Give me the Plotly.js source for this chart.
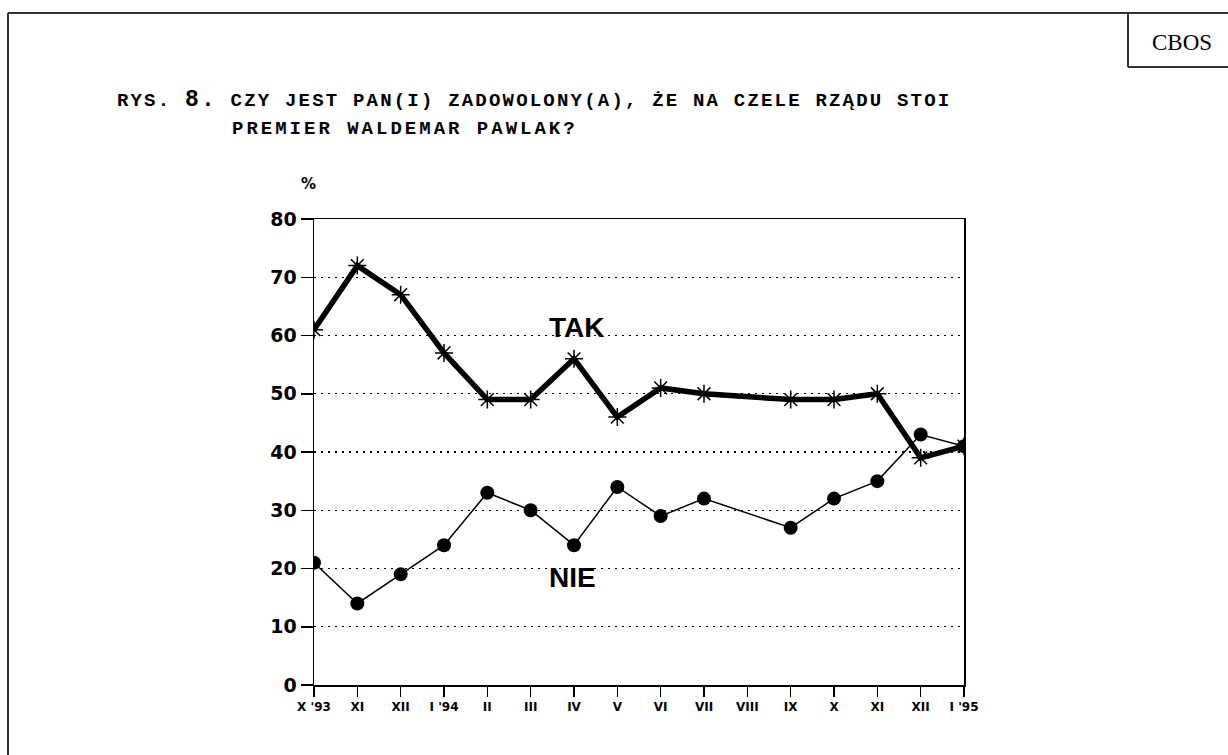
<!DOCTYPE html>
<html>
<head>
<meta charset="utf-8">
<script src="https://cdn.plot.ly/plotly-3.0.1.min.js"></script>
<style>
html,body{margin:0;padding:0;background:#fff;}
#chart{width:1228px;height:755px;}
.annotation[data-index="0"] text{letter-spacing:2.2px;}
.annotation[data-index="1"] text{letter-spacing:3px;}
</style>
</head>
<body>
<div id="chart"></div>
<script>
const months = ["X '93","XI","XII","I '94","II","III","IV","V","VI","VII","VIII","IX","X","XI","XII","I '95"];
const tak = [61,72,67,57,49,49,56,46,51,50,null,49,49,50,39,41];
const nie = [21,14,19,24,33,30,24,34,29,32,null,27,32,35,43,41];
const titleLine1 = "RYS. <span style='font-size:23px'>8.</span> CZY JEST PAN(I) ZADOWOLONY(A), ŻE NA CZELE RZĄDU STOI";
const titleLine2 = "PREMIER WALDEMAR PAWLAK?";

const W = 1228, H = 755;
const L = 314, R = 964, T = 219, B = 685;
const px = x => (x - L) / (R - L);
const py = y => (B - y) / (B - T);
const idx = months.map((m, i) => i);

const traces = [
  {x: idx, y: tak, type: 'scatter', mode: 'lines+markers', connectgaps: true,
   line: {color: '#000', width: 5.5},
   marker: {symbol: 'asterisk-open', size: 15, color: '#000', line: {color: '#000', width: 1.5}},
   hoverinfo: 'skip'},
  {x: idx, y: nie, type: 'scatter', mode: 'lines+markers', connectgaps: true,
   line: {color: '#000', width: 1.5},
   marker: {symbol: 'circle', size: 14, color: '#000'},
   hoverinfo: 'skip'}
];

const frame = {type: 'line', xref: 'paper', yref: 'paper', line: {color: '#333', width: 2}};
const layout = {
  width: W, height: H,
  margin: {l: L, r: W - R, t: T, b: H - B},
  paper_bgcolor: '#fff', plot_bgcolor: '#fff',
  showlegend: false,
  xaxis: {
    range: [0, 15], tickvals: idx, ticktext: months,
    showgrid: false, zeroline: false,
    showline: true, mirror: true, linecolor: '#000', linewidth: 1.5,
    ticks: 'outside', ticklen: 10, tickwidth: 1.5, tickcolor: '#000',
    tickfont: {family: 'DejaVu Sans', size: 12, color: '#000', weight: 'bold'},
    fixedrange: true
  },
  yaxis: {
    range: [0, 80], dtick: 10, tick0: 0,
    showgrid: true, gridcolor: '#000', gridwidth: 1.2, griddash: '2px,5px',
    zeroline: false,
    showline: true, mirror: true, linecolor: '#000', linewidth: 1.5,
    ticks: 'outside', ticklen: 12, tickwidth: 1.5, tickcolor: '#000',
    tickfont: {family: 'DejaVu Sans', size: 19, color: '#000', weight: 'bold'},
    fixedrange: true
  },
  annotations: [
    {text: titleLine1, xref: 'paper', yref: 'paper', x: px(534), y: py(100), xanchor: 'center', yanchor: 'middle',
     showarrow: false, font: {family: 'Liberation Mono', size: 19, color: '#000', weight: 'bold'}},
    {text: titleLine2, xref: 'paper', yref: 'paper', x: px(405), y: py(129), xanchor: 'center', yanchor: 'middle',
     showarrow: false, font: {family: 'Liberation Mono', size: 19, color: '#000', weight: 'bold'}},
    {text: '%', xref: 'paper', yref: 'paper', x: px(308), y: py(184), xanchor: 'center', yanchor: 'middle',
     showarrow: false, font: {family: 'DejaVu Sans', size: 15, color: '#000', weight: 'bold'}},
    {text: 'TAK', xref: 'paper', yref: 'paper', x: px(576), y: py(327), xanchor: 'center', yanchor: 'middle',
     showarrow: false, font: {family: 'Liberation Sans', size: 28, color: '#000', weight: 'bold'}},
    {text: 'NIE', xref: 'paper', yref: 'paper', x: px(572), y: py(577), xanchor: 'center', yanchor: 'middle',
     showarrow: false, font: {family: 'Liberation Sans', size: 28, color: '#000', weight: 'bold'}},
    {text: 'CBOS', xref: 'paper', yref: 'paper', x: px(1182), y: py(42), xanchor: 'center', yanchor: 'middle',
     showarrow: false, font: {family: 'Liberation Serif', size: 23, color: '#000'}}
  ],
  shapes: [
    Object.assign({}, frame, {x0: px(8), x1: px(1228), y0: py(13), y1: py(13)}),
    Object.assign({}, frame, {x0: px(8), x1: px(8), y0: py(13), y1: py(755)}),
    Object.assign({}, frame, {x0: px(1128), x1: px(1128), y0: py(13), y1: py(67)}),
    Object.assign({}, frame, {x0: px(1128), x1: px(1228), y0: py(67), y1: py(67)})
  ]
};

Plotly.newPlot('chart', traces, layout, {displayModeBar: false, staticPlot: true});
</script>
</body>
</html>
